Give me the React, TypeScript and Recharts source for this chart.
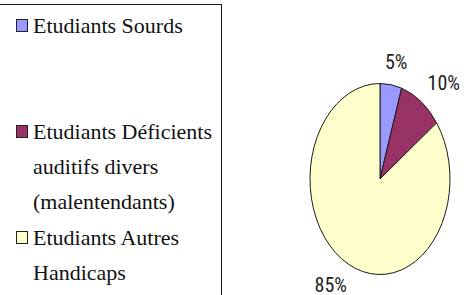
import React from "react";
import { PieChart, Pie, Cell } from "recharts";

const categories = [
  "Etudiants Sourds",
  "Etudiants Déficients auditifs divers (malentendants)",
  "Etudiants Autres Handicaps",
];
const values = [5, 10, 85];
const colors = ["#9999FF", "#993366", "#FFFFCC"];

const data = categories.map((name, i) => ({ name, value: values[i] }));

const RX = 70;
const RY_RATIO = 95.5 / 70;
const RAD = Math.PI / 180;

const EllipseSector = (props: any) => {
  const { cx, cy, outerRadius, startAngle, endAngle, fill } = props;
  const rx = outerRadius;
  const ry = outerRadius * RY_RATIO;
  const p = (a: number) => [cx + rx * Math.cos(a * RAD), cy - ry * Math.sin(a * RAD)];
  const [x1, y1] = p(startAngle);
  const [x2, y2] = p(endAngle);
  const delta = Math.abs(endAngle - startAngle);
  const large = delta > 180 ? 1 : 0;
  const sweep = endAngle < startAngle ? 1 : 0;
  const d = `M${cx},${cy} L${x1},${y1} A${rx},${ry} 0 ${large} ${sweep} ${x2},${y2} Z`;
  return <path d={d} fill={fill} stroke="#1a1a1a" strokeWidth={1} />;
};

const renderLabel = (props: any) => {
  const { cx, cy, midAngle, outerRadius, percent } = props;
  const txt = `${Math.round(percent * 100)}%`;
  const w = 10 * txt.length + 7;
  const c = Math.cos(midAngle * RAD);
  const s = Math.sin(midAngle * RAD);
  const px = cx + outerRadius * c;
  const py = cy - outerRadius * RY_RATIO * s;
  const x = px + c * (w / 2 + 20);
  const y = py - s * 23;
  return (
    <text
      x={x}
      y={y}
      textAnchor="middle"
      dominantBaseline="central"
      fontFamily='"Roboto Condensed", "Liberation Sans", sans-serif'
      fontSize={20}
      fill="#222"
    >
      {txt}
    </text>
  );
};

const legendTops = [8, 114, 220];

export default function App() {
  return (
    <div style={{ position: "absolute", left: 0, top: 0, width: 467, height: 295, background: "#fff", overflow: "hidden" }}>
      <div
        style={{
          position: "absolute",
          left: -2,
          top: 4,
          width: 224,
          height: 300,
          border: "1.5px solid #1a1a1a",
          boxSizing: "border-box",
        }}
      />
      {categories.map((name, i) => (
        <div key={name} style={{ position: "absolute", left: 0, top: legendTops[i], width: 220 }}>
          <div
            style={{
              position: "absolute",
              left: 16,
              top: 11,
              width: 12,
              height: 13,
              background: colors[i],
              border: "1px solid #222",
              boxSizing: "border-box",
            }}
          />
          <div
            style={{
              position: "absolute",
              left: 33,
              top: 0,
              width: 185,
              fontFamily: '"Liberation Serif", serif',
              fontSize: 22,
              lineHeight: "35px",
              color: "#111",
            }}
          >
            {name}
          </div>
        </div>
      ))}
      <div style={{ position: "absolute", left: 0, top: 0 }}>
        <PieChart width={467} height={295} margin={{ top: 0, right: 0, bottom: 0, left: 0 }}>
          <Pie
            data={data}
            dataKey="value"
            nameKey="name"
            cx={380}
            cy={179}
            outerRadius={RX}
            startAngle={90}
            endAngle={-270}
            isAnimationActive={false}
            label={renderLabel}
            labelLine={false}
            shape={EllipseSector}
            inactiveShape={EllipseSector}
            activeShape={EllipseSector}
            stroke="#1a1a1a"
          >
            {data.map((d, i) => (
              <Cell key={d.name} fill={colors[i]} />
            ))}
          </Pie>
        </PieChart>
      </div>
    </div>
  );
}
